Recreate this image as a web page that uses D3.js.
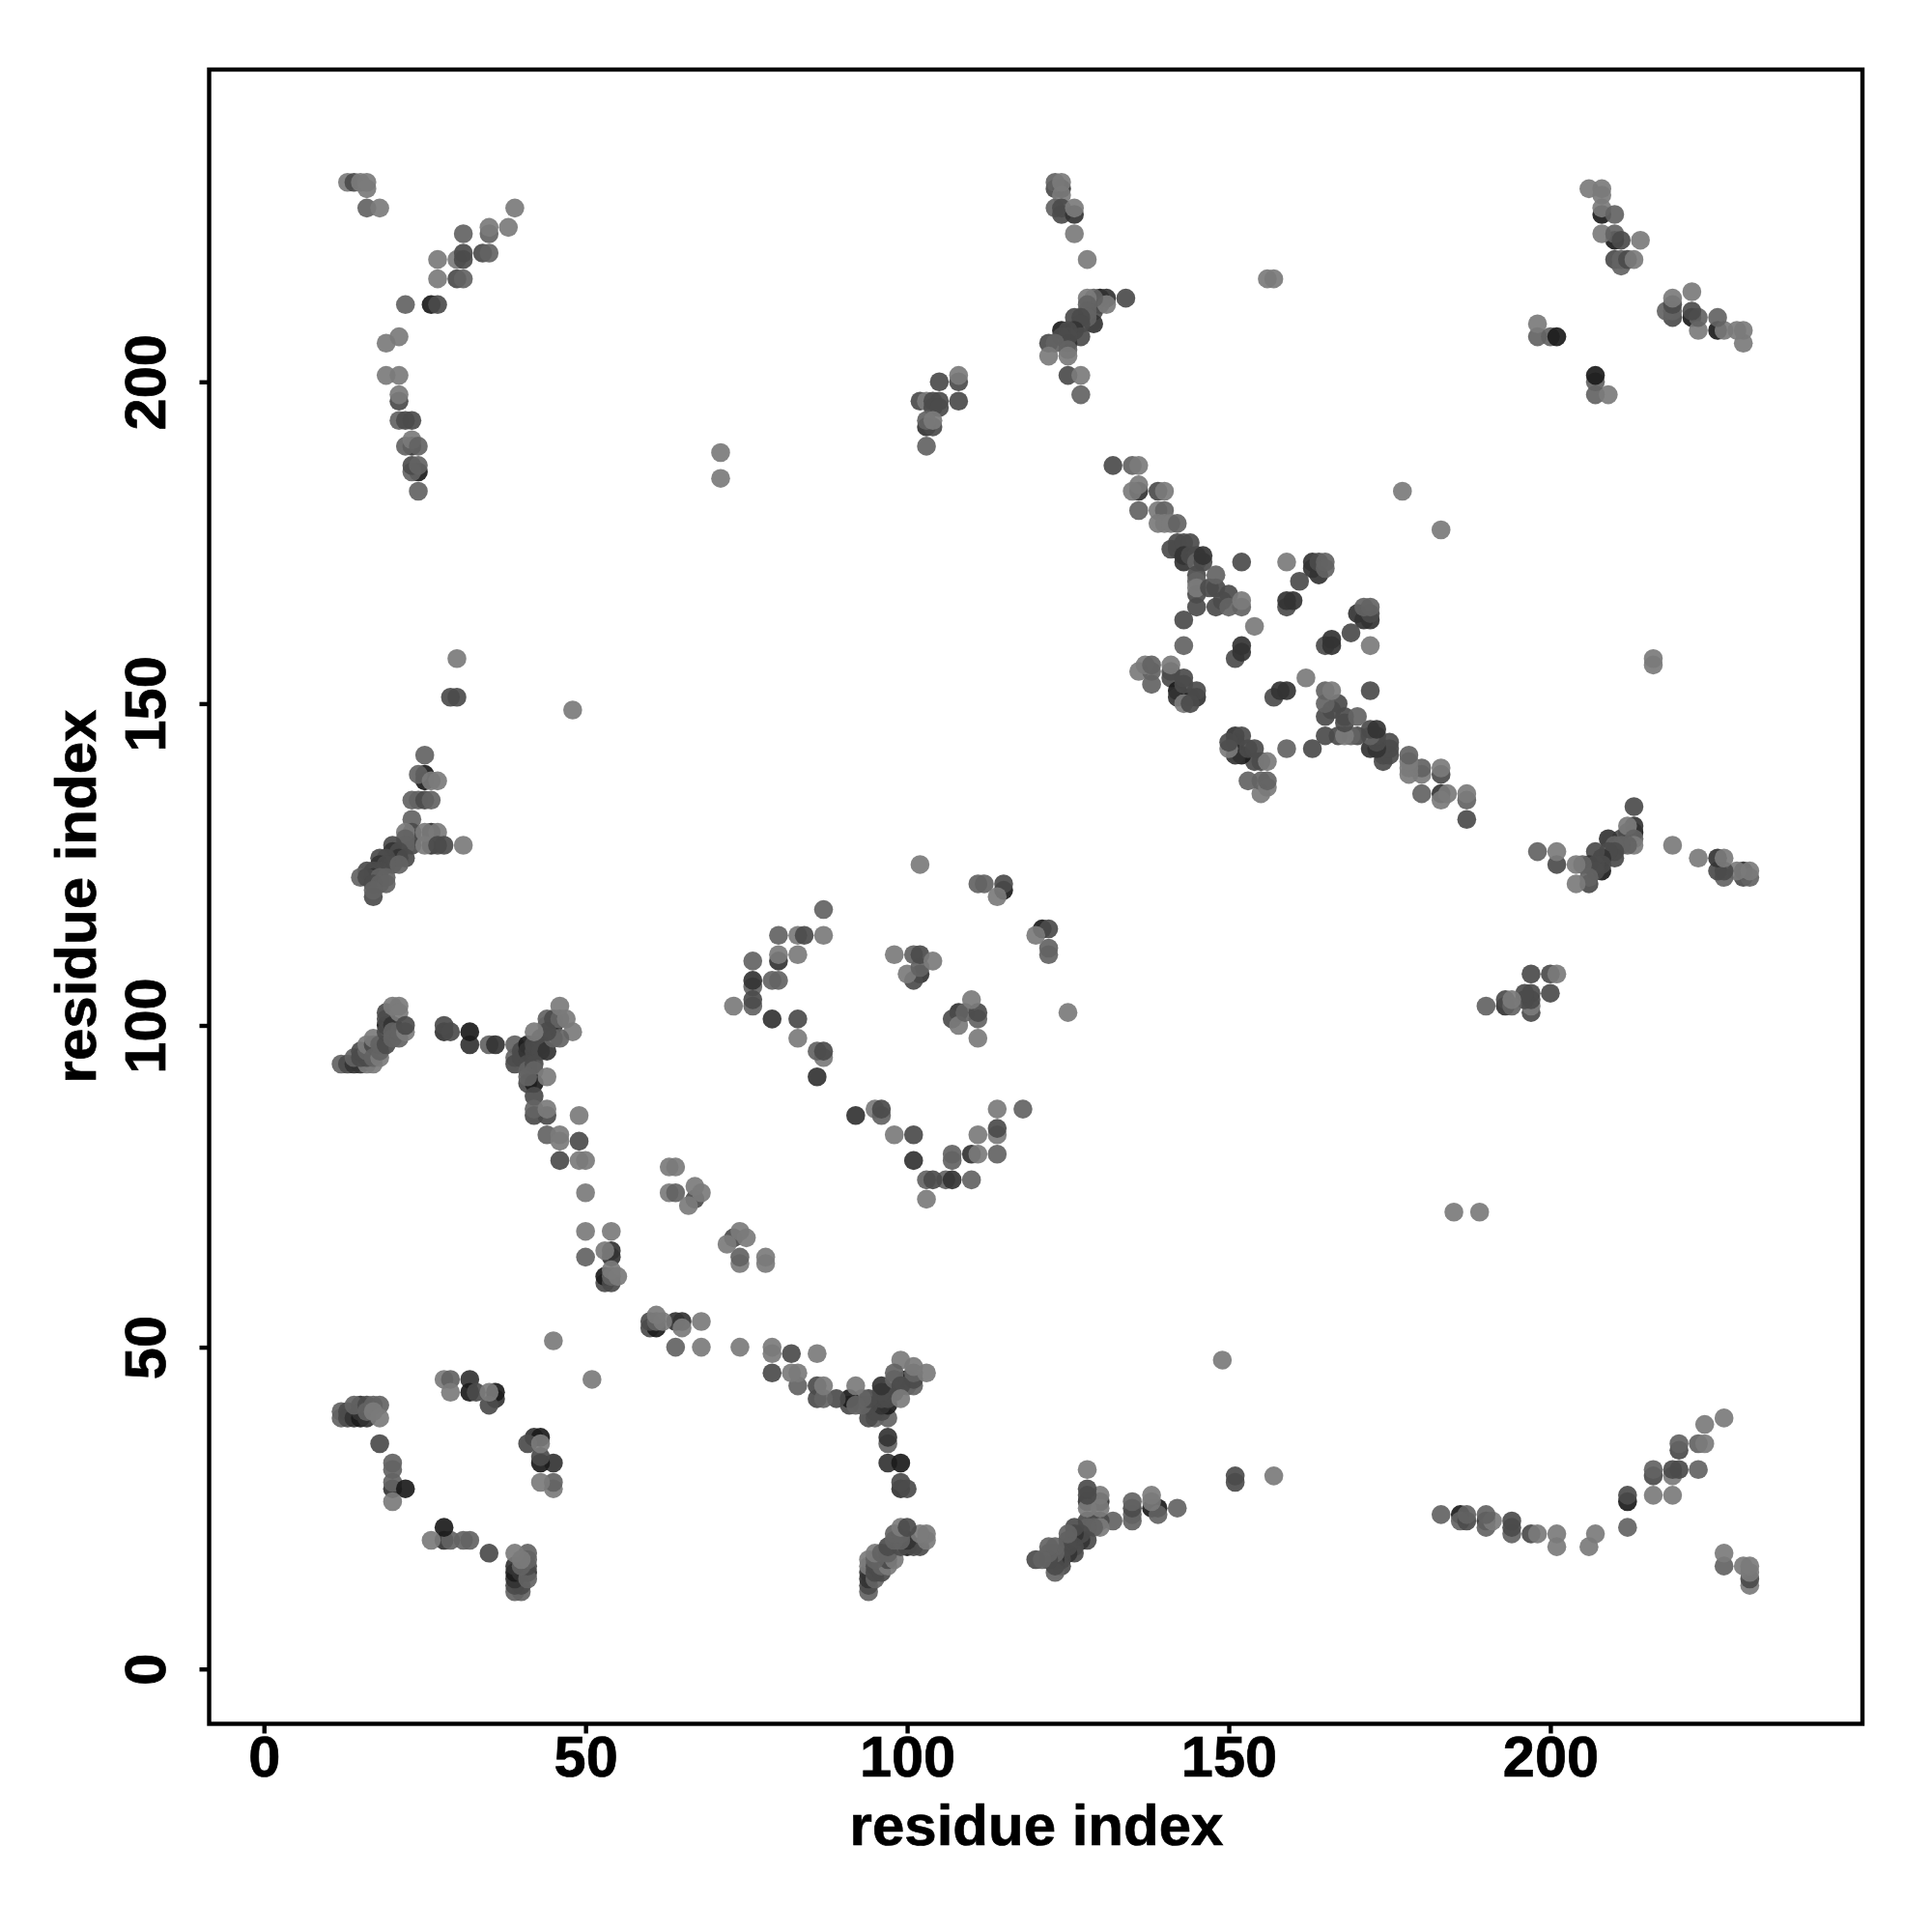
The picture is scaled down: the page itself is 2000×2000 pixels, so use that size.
<!DOCTYPE html>
<html>
<head>
<meta charset="utf-8">
<script src="https://d3js.org/d3.v7.min.js"></script>
<style>
  body { margin: 0; background: #fff; }
  text { font-family: "Liberation Sans", Arial, sans-serif; font-weight: bold; fill: #000; stroke: #000; stroke-width: 0.7px; }
</style>
</head>
<body>
<svg id="chart" width="2000" height="2000"></svg>
<script>
// contact map is symmetric, so only the i < j half is read off the picture
// every entry: [residue i, residue j, contact strength 1..5]
const farTopLeft = [
  [13,231,1],[14,231,3],[15,231,1],[16,230,1],[16,231,1],[16,227,2],[18,227,1],
  [39,227,1],[38,224,1],[35,223,2],[35,224,1],[31,223,2],[34,220,3],[35,220,2],
  [27,219,1],[30,219,1],[31,219,3],[31,220,3],[27,216,1],[30,216,3],[31,216,2],
  [22,212,2],[26,212,5],[27,212,3],[21,207,1],[19,206,1],[19,201,1],[21,201,1],
  [21,197,3],[21,198,1],[21,194,2],[22,194,3],[23,194,3],[23,190,4],[22,190,2],
  [23,191,1],[24,190,2],[24,186,5],[23,186,2],[23,187,3],[24,187,2],[24,183,2]
];
const helixTop = [
  [123,230,3],[124,230,4],[123,231,2],[124,229,1],[124,231,1],[123,227,2],[124,226,3],
  [124,227,3],[126,226,4],[126,227,1],[126,223,1],[128,219,1],[156,216,1],[157,216,1],
  [134,213,3],[130,213,5],[131,213,4],[129,211,3],[129,209,4],[130,212,3],[131,212,1],
  [129,213,2],[128,213,1],[128,212,2],[128,211,2],[128,210,2],[127,210,3],[126,210,3],
  [127,209,3],[126,208,4],[127,207,3],[124,208,5],[125,208,3],[125,206,4],[125,207,3],
  [124,207,3],[122,206,3],[123,206,2],[125,205,2],[122,204,1],[125,204,1],
  [125,201,3],[127,201,1],[127,198,2]
];
const cornerTopRight = [
  [208,226,5],[206,230,1],[208,230,1],[208,229,1],[208,227,1],[210,226,2],[210,222,5],
  [208,223,1],[210,223,2],[211,222,3],[214,222,1],[210,219,3],[211,218,2],[211,219,2],
  [212,219,3],[213,219,1],[198,207,2],[198,209,1],[200,207,2],[201,207,5]
];
const strandTop = [
  [105,200,3],[108,200,3],[108,201,1],[108,197,3],[102,197,3],[103,197,1],[104,197,3],
  [105,197,3],[104,196,3],[105,196,3],[103,193,4],[104,193,3],[103,194,2],[104,194,1],
  [103,190,2],[71,185,1],[71,189,1],[48,149,1],[45,51,1],[177,183,1]
];
const domainCore = [
  [132,187,3],[135,187,2],[136,187,1],[136,183,4],[135,183,1],[136,184,1],[139,183,3],
  [140,183,1],[136,180,2],[139,180,1],[140,180,2],[139,178,1],[140,178,1],[141,178,1],
  [142,178,2],[141,174,3],[143,172,4],[142,174,3],[142,175,3],[143,175,3],[144,175,3],
  [143,173,4],[144,173,3],[145,173,3],[145,172,2],[146,172,3],[146,173,4],[152,172,3],
  [159,172,1],[163,171,4],[164,170,4],[163,172,4],[164,172,3],[165,171,2],[165,172,2],
  [161,169,3],[145,170,3],[145,169,2],[145,167,3],[145,168,1],[145,165,3],[147,168,3],
  [148,168,3],[148,170,2],[148,165,3],[149,166,3],[150,167,3],[150,165,2],[152,165,2],
  [152,166,1],[159,165,3],[159,166,4],[160,166,4],[143,163,3],[154,162,1],[143,159,2],
  [151,157,3],[152,158,4],[152,159,4],[136,155,1],[138,155,2],[137,156,1],[138,156,2],
  [138,153,2],[141,154,3],[141,155,3],[141,156,1],[142,152,5],[142,151,4],[144,151,5],
  [145,151,4],[143,153,3],[143,154,3],[145,152,3],[143,150,1],[144,150,3]
];
const sheetLeft = [
  [25,139,5],[25,138,5],[24,139,2],[25,142,2],[26,138,1],[27,138,1],[23,135,2],[24,135,2],
  [25,135,3],[26,135,2],[23,132,2],[23,130,3],[23,129,3],[23,128,3],[22,130,1],[22,129,2],
  [22,128,2],[26,130,4],[26,128,4],[25,130,1],[27,130,1],[25,128,1],[27,128,3],[28,128,3],
  [31,128,1],[20,128,3],[20,127,4],[21,127,3],[21,126,4],[22,126,3],[18,126,3],[19,126,3],
  [18,125,4],[20,125,3],[19,125,3],[21,125,2],[17,124,3],[16,124,3],[18,124,3],[17,123,4],
  [15,123,2],[16,123,3],[18,123,2],[19,123,2],[17,122,3],[18,122,2],[19,122,2],[17,120,3],
  [17,121,2],[29,151,3],[30,151,3],[30,157,1]
];
const bandMiddle = [
  [12,94,2],[13,94,3],[14,94,4],[15,94,4],[14,95,2],[16,94,1],[17,94,1],[15,95,3],[16,95,3],
  [15,96,3],[16,96,2],[16,97,1],[17,97,3],[17,98,1],[17,95,2],[18,95,1],[18,96,2],[18,97,2],
  [19,97,3],[19,100,5],[19,99,3],[19,101,3],[19,102,3],[20,100,4],[20,99,2],[20,98,2],[21,98,2],
  [20,103,1],[21,103,1],[21,102,1],[21,99,2],[22,99,1],[22,100,3],
  [28,99,4],[28,100,3],[29,99,3],[32,97,4],[32,99,5],[35,97,2],[36,97,4],
  [39,97,2],[39,95,2],[39,94,3],[40,96,3],[40,95,3],[41,97,5],[41,96,4],[42,96,3],[41,94,3],
  [41,93,2],[42,97,3],[43,98,3],[43,97,3],[43,96,3],[44,96,4],[45,100,5],[44,100,2],[44,101,2],
  [45,101,3],[46,101,2],[46,103,1],[47,101,1],[48,99,1],[46,98,2],[45,98,2],[44,99,3],[42,99,1],
  [42,94,3],[42,93,2],[41,91,3],[42,91,5],[41,92,2],[44,92,1],[42,89,3],[42,86,3],[44,86,3],
  [42,87,2],[44,87,1],[44,83,2],[46,83,1],[46,82,1],[49,86,1],[49,82,3],[46,79,3],[49,79,1],[50,79,1]
];
const ringMiddle = [
  [102,125,1],[111,122,2],[112,122,2],[115,121,5],[115,122,3],[114,120,1],[87,118,2],
  [80,114,2],[83,114,1],[84,114,3],[87,114,1],[80,110,4],[80,111,1],[83,111,1],[76,110,2],
  [76,106,2],[76,107,4],[79,107,2],[80,107,2],[76,103,2],[76,104,3],[73,103,1],[79,101,4],
  [83,101,3],[83,98,1],[87,95,1],[86,96,2],[87,96,3],[86,92,4],[98,111,1],[101,111,2],
  [102,108,4],[101,107,3],[100,108,1],[102,109,2],[102,111,3],[104,110,1]
];
const ringLower = [
  [63,78,1],[64,78,1],[63,74,1],[64,74,2],[67,73,3],[67,75,1],[68,74,1],[66,72,1],[50,74,1],
  [50,68,1],[54,68,1],[50,64,2],[54,65,4],[54,64,4],[53,65,1],[53,60,3],[53,61,5],[54,60,3],
  [54,61,2],[54,62,1],[55,61,1]
];
const cornerBottomLeft = [
  [12,40,2],[12,39,2],[13,39,3],[13,40,3],[14,39,4],[15,39,5],[15,40,4],[15,41,4],[14,41,2],
  [16,39,4],[16,41,3],[16,40,2],[17,41,2],[18,41,2],[18,39,1],[17,40,1],[18,35,3],[20,32,2],
  [20,31,2],[20,28,4],[20,29,2],[22,28,5],[20,26,1],[32,45,4],[32,43,5],[33,43,3],[28,45,1],
  [29,45,2],[29,43,1],[36,42,4],[36,43,5],[35,41,3],[35,43,1]
];

const contactHalf = [farTopLeft, helixTop, cornerTopRight, strandTop, domainCore,
  sheetLeft, bandMiddle, ringMiddle, ringLower, cornerBottomLeft].flat();

const tickLabels = [0, 50, 100, 150, 200];
const axisTitle = "residue index";

const svg = d3.select("#chart");

const x = d3.scaleLinear().domain([-8.52, 248.52]).range([216.5, 1928]);
const y = d3.scaleLinear().domain([-8.52, 248.52]).range([1784.5, 72]);
// darker = stronger contact
const shade = d3.scaleLinear().domain([1, 5]).range(["#7b7b7b", "#1b1b1b"]);

const pts = svg.append("g").attr("class", "contacts");
[contactHalf, contactHalf.map(d => [d[1], d[0], d[2]])].forEach(set => {
  pts.append("g")
    .selectAll("circle")
    .data(set)
    .enter()
    .append("circle")
    .attr("cx", d => x(d[0]))
    .attr("cy", d => y(d[1]))
    .attr("r", 9.8)
    .attr("fill", d => shade(d[2]))
    .attr("fill-opacity", 0.92);
});

svg.append("rect")
  .attr("x", 216.5).attr("y", 72)
  .attr("width", 1711.5).attr("height", 1712.5)
  .attr("fill", "none")
  .attr("stroke", "#000")
  .attr("stroke-width", 4.4);

const xAxis = svg.append("g")
  .attr("transform", "translate(0,1784.5)")
  .call(d3.axisBottom(x).tickValues(tickLabels).tickSize(10).tickPadding(0));
const yAxis = svg.append("g")
  .attr("transform", "translate(216.5,0)")
  .call(d3.axisLeft(y).tickValues(tickLabels).tickSize(10).tickPadding(0));

[xAxis, yAxis].forEach(ax => {
  ax.select(".domain").remove();
  ax.selectAll(".tick line").attr("stroke", "#000").attr("stroke-width", 4.4);
});

xAxis.selectAll(".tick text")
  .attr("y", 54.5).attr("dy", 0)
  .attr("text-anchor", "middle")
  .style("font-size", "59.5px");
yAxis.selectAll(".tick text")
  .attr("x", null).attr("dy", 0)
  .attr("text-anchor", "middle")
  .attr("transform", "translate(-45.5,0) rotate(-90)")
  .style("font-size", "59.5px");

svg.append("text")
  .attr("x", 1073).attr("y", 1910)
  .attr("text-anchor", "middle")
  .style("font-size", "60px")
  .text(axisTitle);
svg.append("text")
  .attr("transform", "translate(99,928) rotate(-90)")
  .attr("text-anchor", "middle")
  .style("font-size", "60px")
  .text(axisTitle);
</script>
</body>
</html>
